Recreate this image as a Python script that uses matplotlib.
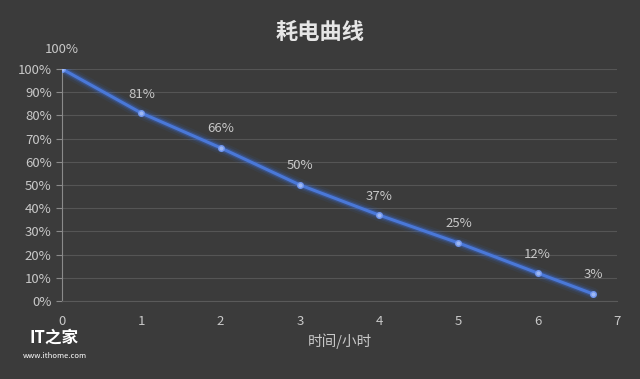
import matplotlib.pyplot as plt
import matplotlib as mpl
from matplotlib.ticker import FuncFormatter

plt.rcParams['font.family'] = ['Noto Sans CJK SC', 'DejaVu Sans']

hours = [0, 1, 2, 3, 4, 5, 6, 6.7]
battery = [100, 81, 66, 50, 37, 25, 12, 3]
labels = ['100%', '81%', '66%', '50%', '37%', '25%', '12%', '3%']

bg = '#3b3b3b'
txt = '#c8c8c8'

fig = plt.figure(figsize=(6.4, 3.79), dpi=100, facecolor=bg)
ax = fig.add_axes([0.097, 0.206, 0.867, 0.612], facecolor=bg)

# glow under the line
for lw, a in [(9, 0.08), (6, 0.15), (4, 0.3)]:
    ax.plot(hours, battery, color='#3a6fe0', lw=lw, alpha=a, solid_capstyle='round', zorder=2)
ax.plot(hours, battery, color='#4a78d8', lw=2.2, zorder=3)
ax.plot(hours, battery, 'o', ms=4, color='#9db8f5', mec='#6f95ee', zorder=4)

for x, y, s in zip(hours, battery, labels):
    ax.annotate(s, (x, y), xytext=(0, 9), textcoords='offset points', ha='center', va='bottom',
                color=txt, fontsize=9.5)

ax.set_xlim(0, 7)
ax.set_ylim(0, 100)
ax.set_xticks(range(8))
ax.set_yticks(range(0, 101, 10))
ax.yaxis.set_major_formatter(FuncFormatter(lambda v, p: f'{int(v)}%'))
ax.grid(axis='y', color='#555555', lw=0.8)
ax.set_axisbelow(True)
for side in ['top', 'right']:
    ax.spines[side].set_visible(False)
ax.spines['left'].set_color('#8a8a8a')
ax.spines['bottom'].set_color('#5a5a5a')
ax.tick_params(axis='y', colors=txt, labelsize=9.5, length=4, color='#8a8a8a')
ax.tick_params(axis='x', colors=txt, labelsize=9.5, length=0, pad=10)
ax.set_xlabel('时间/小时', color=txt, fontsize=10.5, labelpad=4)

fig.text(0.5, 0.915, '耗电曲线', ha='center', va='center', color='#e6e6e6', fontsize=16, fontweight='bold')

# watermark
fig.text(0.085, 0.11, 'IT之家', ha='center', va='center', color='white', fontsize=12, fontweight='bold')
fig.text(0.085, 0.06, 'www.ithome.com', ha='center', va='center', color='white', fontsize=5.5)

fig.savefig('out.png', dpi=100, facecolor=bg)
